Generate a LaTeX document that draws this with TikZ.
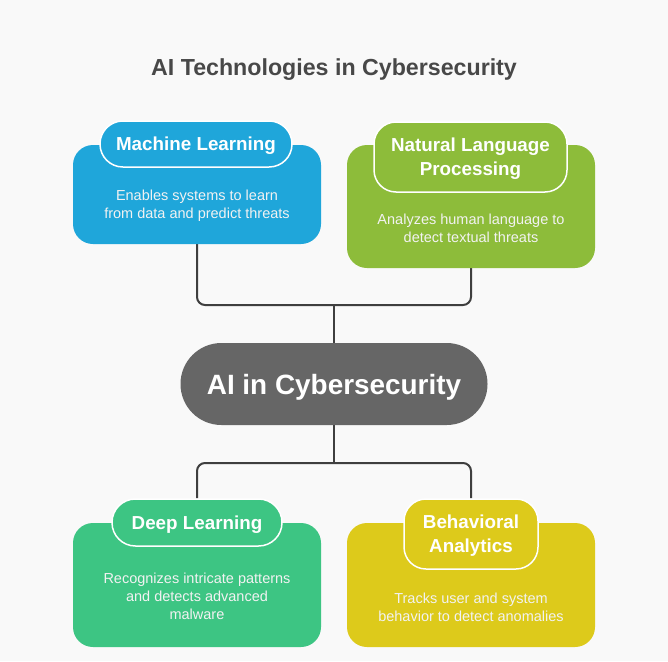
\documentclass[tikz,border=0pt]{standalone}
\usepackage{fontspec}
\setmainfont{Liberation Sans}
\usetikzlibrary{backgrounds}
\definecolor{bg}{HTML}{F9F9F9}
\definecolor{mlc}{HTML}{1FA6DA}
\definecolor{nlpc}{HTML}{8DBC3A}
\definecolor{dlc}{HTML}{3DC583}
\definecolor{bac}{HTML}{DDCA1B}
\definecolor{aic}{HTML}{666666}
\definecolor{titlec}{HTML}{484848}
\definecolor{linec}{HTML}{3F3F3F}
\tikzset{
  card/.style={rounded corners=20pt, inner sep=0pt, minimum width=248pt},
  pill/.style={draw=white, line width=1.5pt, inner sep=0pt, text=white, align=center,
    text depth=0pt, font=\bfseries\fontsize{18.8}{24}\selectfont},
  desc/.style={text=white!95!black, align=center, inner sep=0pt, text depth=0pt,
    font=\fontsize{14.5}{18}\selectfont},
  link/.style={draw=linec, line width=2pt, rounded corners=8pt},
}
\begin{document}
\begin{tikzpicture}[x=1pt, y=-1pt]
\begin{scope}[on background layer]
\path[use as bounding box, fill=bg] (0,0) rectangle (668,661);
\end{scope}

\node[text=titlec, text depth=0pt, font=\bfseries\fontsize{23.2}{28}\selectfont] (title) at (334,67) {AI Technologies in Cybersecurity};

% Machine Learning
\node[card, fill=mlc, minimum height=99pt] (ml) at (197,194.5) {};
\node[pill, fill=mlc, minimum width=192pt, minimum height=46pt, rounded corners=22.9pt] (mlp) at (196,144) {Machine Learning};
\node[desc] (mld) at (197,204) {Enables systems to learn\\from data and predict threats};

% NLP
\node[card, fill=nlpc, minimum height=123pt] (nlp) at (471,206.5) {};
\node[pill, fill=nlpc, minimum width=193pt, minimum height=70pt, rounded corners=22pt] (nlpp) at (470.5,157) {Natural Language\\Processing};
\node[desc] (nlpd) at (471,228) {Analyzes human language to\\detect textual threats};

% Center
\node[fill=aic, minimum width=307pt, minimum height=82pt, rounded corners=40.9pt, inner sep=0pt,
  text depth=0pt, text=white, font=\bfseries\fontsize{27.9}{32}\selectfont] (ai) at (334,384) {AI in Cybersecurity};

% Deep Learning
\node[card, fill=dlc, minimum height=124pt] (dl) at (197,585) {};
\node[pill, fill=dlc, minimum width=170pt, minimum height=47pt, rounded corners=23.4pt] (dlp) at (197,522.5) {Deep Learning};
\node[desc] (dld) at (197,596) {Recognizes intricate patterns\\and detects advanced\\malware};

% Behavioral Analytics
\node[card, fill=bac, minimum height=124pt] (ba) at (471,585) {};
\node[pill, fill=bac, minimum width=134pt, minimum height=70pt, rounded corners=22pt] (bap) at (471,534) {Behavioral\\Analytics};
\node[desc] (bad) at (471,607) {Tracks user and system\\behavior to detect anomalies};

\coordinate (jt) at (334,305);
\coordinate (jb) at (334,463);
\begin{scope}[on background layer]
\draw[link] (ml.south) |- (jt) -| (nlp.south);
\draw[link] (jt) -- (ai.north);
\draw[link] (ai.south) -- (jb);
\draw[link] (dlp.north) |- (jb) -| (bap.north);
\end{scope}
\end{tikzpicture}
\end{document}
